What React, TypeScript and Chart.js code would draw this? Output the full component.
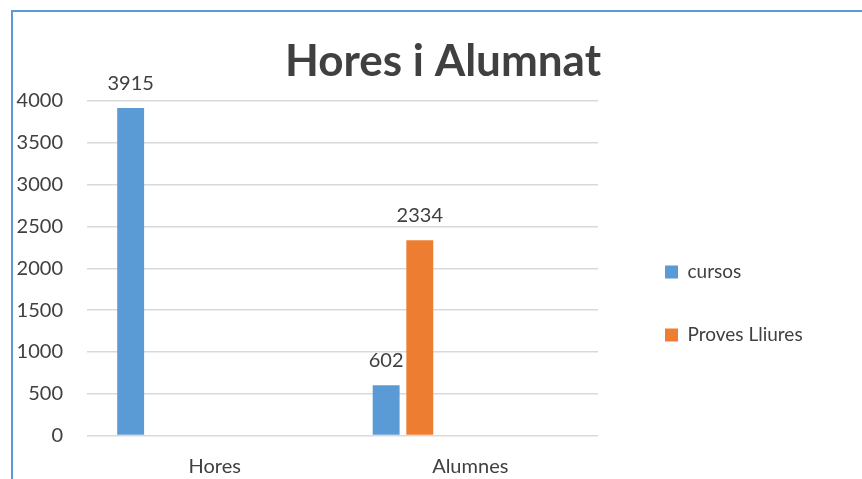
import { useEffect, useRef } from 'react';
import { Chart, registerables } from 'chart.js';

Chart.register(...registerables);

const chartTitle = 'Hores i Alumnat';
const categories = ['Hores', 'Alumnes'];
const seriesNames = ['cursos', 'Proves Lliures'];
const cursos = [3915, 602];
const provesLliures = [null, 2334];
// the source chart reserves four more (empty) series slots in every category
const emptySeries: (number | null)[] = [null, null];
const yMin = 0;
const yMax = 4000;
const yStep = 500;

const BLUE = '#5B9BD5';
const ORANGE = '#ED7D31';
const TEXT = '#404040';
const GRID = '#D9D9D9';
const FONT = 'Lato, "Open Sans", sans-serif';

const CANVAS_W = 862;
const CANVAS_H = 479;
// layout extends beyond the canvas on both sides so the title is centred at x=443
const EXT = 500;
const PAD_L = -EXT;
const PAD_R = -(24 + EXT);
const RIGHT_EDGE = CANVAS_W - PAD_R;
const PLOT_LEFT = 87;
const PLOT_RIGHT = 598;
const GAP_W = 23;

const valueLabels = {
  id: 'valueLabels',
  afterDatasetsDraw(chart: any) {
    const ctx = chart.ctx;
    ctx.save();
    ctx.font = `20px ${FONT}`;
    ctx.fillStyle = TEXT;
    ctx.textAlign = 'center';
    ctx.textBaseline = 'alphabetic';
    chart.data.datasets.forEach((ds: any, i: number) => {
      const meta = chart.getDatasetMeta(i);
      meta.data.forEach((bar: any, j: number) => {
        const v = ds.data[j];
        if (v == null) return;
        ctx.fillText(String(v), bar.x, bar.y - 18);
      });
    });
    ctx.restore();
  },
};

const spacer = (weight: number, widthOf: (s: any) => number) => ({
  position: 'right',
  weight,
  display: true,
  grid: { display: false },
  border: { display: false },
  ticks: { display: false },
  afterFit: (s: any) => { s.width = Math.max(0, widthOf(s)); },
});

export default function App() {
  const ref = useRef<HTMLCanvasElement>(null);
  useEffect(() => {
    if (!ref.current) return;
    const datasets: any[] = [
      { label: seriesNames[0], data: cursos, backgroundColor: BLUE },
      { label: seriesNames[1], data: provesLliures, backgroundColor: ORANGE },
    ];
    for (let k = 0; k < 4; k++) {
      datasets.push({ label: '', data: emptySeries, backgroundColor: 'transparent' });
    }
    const chart = new Chart(ref.current, {
      type: 'bar',
      data: { labels: categories, datasets },
      plugins: [valueLabels],
      options: {
        responsive: false,
        animation: false,
        layout: { padding: { left: PAD_L, right: PAD_R, top: 0, bottom: 0 } },
        datasets: { bar: { categoryPercentage: 0.79, barPercentage: 0.8 } } as any,
        plugins: {
          tooltip: { enabled: false },
          title: {
            display: true,
            text: chartTitle,
            color: TEXT,
            font: { family: FONT, size: 44, weight: 'bold' },
            padding: { top: 35.5, bottom: 12.7 },
          },
          legend: {
            position: 'right',
            fullSize: false,
            align: 'center',
            title: { display: true, text: '', font: { size: 10, lineHeight: 1 }, padding: { top: 60.5, bottom: 0 } },
            labels: {
              boxWidth: 13,
              boxHeight: 13,
              padding: 44,
              color: TEXT,
              font: { family: FONT, size: 19 },
              filter: (item: any) => item.datasetIndex < 2,
            },
          },
        },
        scales: {
          x: {
            grid: { display: false },
            border: { display: false },
            ticks: { color: TEXT, font: { family: FONT, size: 20 }, padding: 11 },
            afterFit: (s: any) => { s.height = CANVAS_H - 435.5; },
          },
          y: {
            min: yMin,
            max: yMax,
            grid: { color: GRID, lineWidth: 1.5, drawTicks: false },
            border: { display: false },
            ticks: {
              stepSize: yStep,
              color: TEXT,
              font: { family: FONT, size: 20 },
              padding: 24,
              callback: (v: any) => String(v),
            },
            afterFit: (s: any) => { s.width = PLOT_LEFT - PAD_L; },
          },
          gap: spacer(0, () => GAP_W),
          tail: spacer(2000, (s: any) => RIGHT_EDGE - PLOT_RIGHT - GAP_W - (s.chart.legend ? s.chart.legend.width : 0)),
        },
      } as any,
    });
    return () => chart.destroy();
  }, []);

  return (
    <div style={{ position: 'fixed', left: 0, top: 0, width: 862, height: 479, overflow: 'hidden', background: '#fff' }}>
      <div style={{ position: 'absolute', left: 11, top: 10, width: 900, height: 520, borderLeft: `2px solid ${BLUE}`, borderTop: `2px solid ${BLUE}` }} />
      <canvas ref={ref} width={CANVAS_W} height={CANVAS_H} style={{ position: 'absolute', left: 0, top: 0, width: CANVAS_W, height: CANVAS_H }} />
    </div>
  );
}
